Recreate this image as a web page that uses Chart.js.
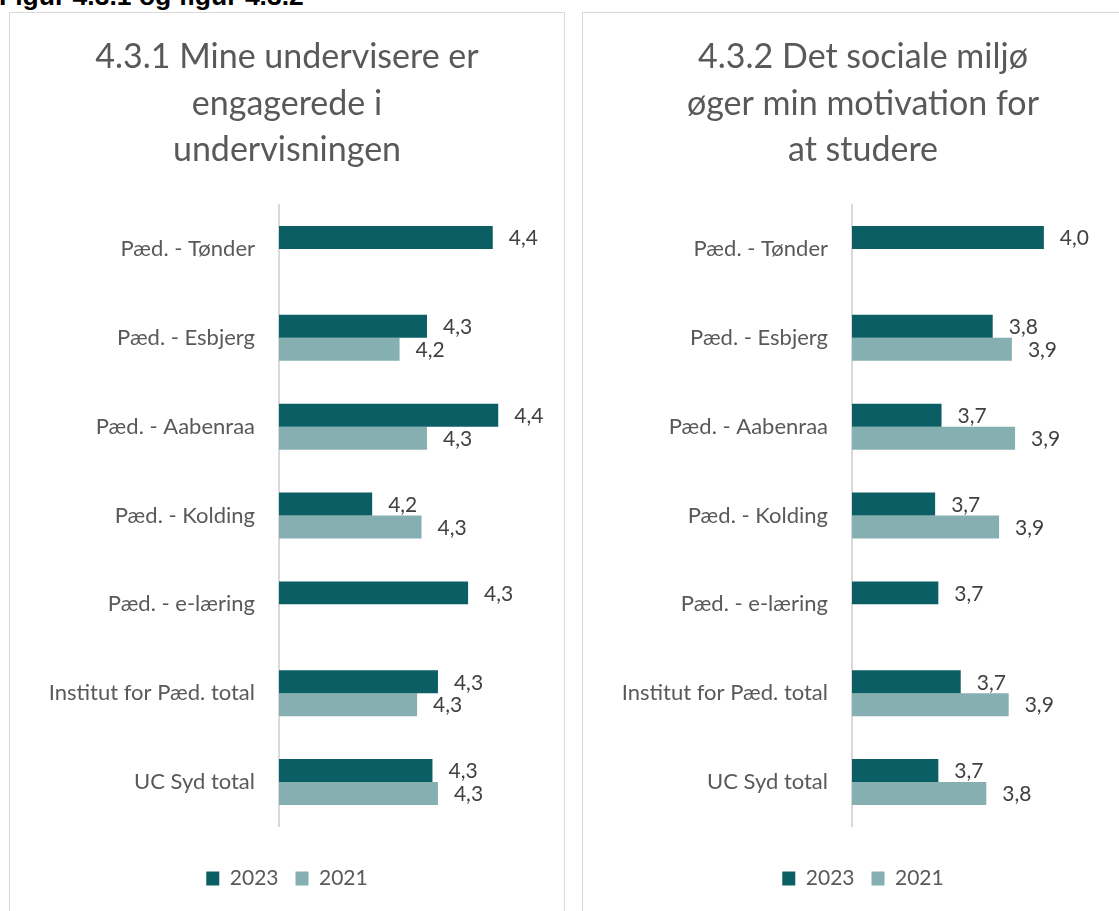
<!DOCTYPE html>
<html>
<head>
<meta charset="utf-8">
<script src="https://cdn.jsdelivr.net/npm/chart.js@4.4.0/dist/chart.umd.min.js"></script>
<style>
  html, body { margin: 0; padding: 0; background: #fff; overflow: hidden; width: 1119px; height: 911px; }
  #cap { position: absolute; left: -1px; top: -17px; font: bold 26.5px/26px "Liberation Sans", Arial, sans-serif; color: #000; white-space: nowrap; }
  .panel { position: absolute; top: 12px; height: 940px; border: 1px solid #d9d9d9; background: #fff; }
  .box { position: absolute; left: 0; top: 0; right: 0; height: 886px; }
</style>
</head>
<body>
<div id="cap">Figur 4.3.1 og figur 4.3.2</div>
<div class="panel" style="left:9px;width:554px;"><div class="box"><canvas id="chart1"></canvas></div></div>
<div class="panel" style="left:582px;width:560px;"><div class="box"><canvas id="chart2"></canvas></div></div>

<script>
// categories (same for both charts)
var categories = ['Pæd. - Tønder', 'Pæd. - Esbjerg', 'Pæd. - Aabenraa', 'Pæd. - Kolding',
                  'Pæd. - e-læring', 'Institut for Pæd. total', 'UC Syd total'];
var seriesNames = ['2023', '2021'];

// 4.3.1 Mine undervisere er engagerede i undervisningen
var title1 = ['4.3.1 Mine undervisere er', 'engagerede i', 'undervisningen'];
var engaged2023 = [4.39, 4.27, 4.40, 4.17, 4.345, 4.29, 4.28];
var engaged2021 = [null, 4.22, 4.27, 4.26, null, 4.252, 4.29];

// 4.3.2 Det sociale miljø øger min motivation for at studere
var title2 = ['4.3.2 Det sociale miljø', 'øger min motivation for', 'at studere'];
var social2023 = [4.00, 3.84, 3.68, 3.66, 3.67, 3.74, 3.67];
var social2021 = [null, 3.90, 3.91, 3.86, null, 3.89, 3.82];

var dark = '#0b5e64';
var light = '#85afb1';
var grey = '#595959';

Chart.defaults.font.family = 'Lato';

// data labels at the end of each bar, "4,3" style
var valueLabels = {
    id: 'valueLabels',
    afterDatasetsDraw: function(chart){
        var ctx = chart.ctx;
        ctx.save();
        ctx.font = '21px Lato';
        ctx.fillStyle = '#404040';
        ctx.textAlign = 'left';
        ctx.textBaseline = 'middle';
        chart.data.datasets.forEach(function(ds, i){
            chart.getDatasetMeta(i).data.forEach(function(bar, j){
                var v = ds.data[j];
                if (v === null || v === undefined) return;
                ctx.fillText(v.toFixed(1).replace('.', ','), bar.x + 16, bar.y + 1);
            });
        });
        ctx.restore();
    }
};

function makeChart(id, title, a, b, min, max){
    return new Chart(document.getElementById(id), {
        type: 'bar',
        data: {
            labels: categories,
            datasets: [
                {label: seriesNames[0], data: a, backgroundColor: dark, borderWidth: 0},
                {label: seriesNames[1], data: b, backgroundColor: light, borderWidth: 0}
            ]
        },
        options: {
            indexAxis: 'y',
            responsive: true,
            maintainAspectRatio: false,
            animation: false,
            categoryPercentage: 0.517,
            barPercentage: 1,
            layout: {padding: 0},
            scales: {
                x: {
                    type: 'linear', min: min, max: max,
                    ticks: {display: false},
                    grid: {display: false, drawTicks: false},
                    border: {display: false},
                    afterFit: function(s){ s.height = 24.5; }
                },
                y: {
                    ticks: {color: grey, font: {size: 22}, padding: 24},
                    grid: {display: false, drawTicks: false},
                    border: {display: true, color: '#d9d9d9', width: 2},
                    afterFit: function(s){ s.width = 269; }
                }
            },
            plugins: {
                title: {
                    display: true, text: title, color: grey,
                    font: {size: 34, weight: 'normal', lineHeight: 1.368},
                    padding: {top: 21, bottom: 31}
                },
                legend: {
                    position: 'bottom',
                    labels: {color: grey, font: {size: 21}, boxWidth: 13, boxHeight: 14, padding: 17}
                },
                tooltip: {enabled: false}
            }
        },
        plugins: [valueLabels]
    });
}

makeChart('chart1', title1, engaged2023, engaged2021, 4.0, 4.52);
makeChart('chart2', title2, social2023, social2021, 3.4, 4.31);
</script>
</body>
</html>
